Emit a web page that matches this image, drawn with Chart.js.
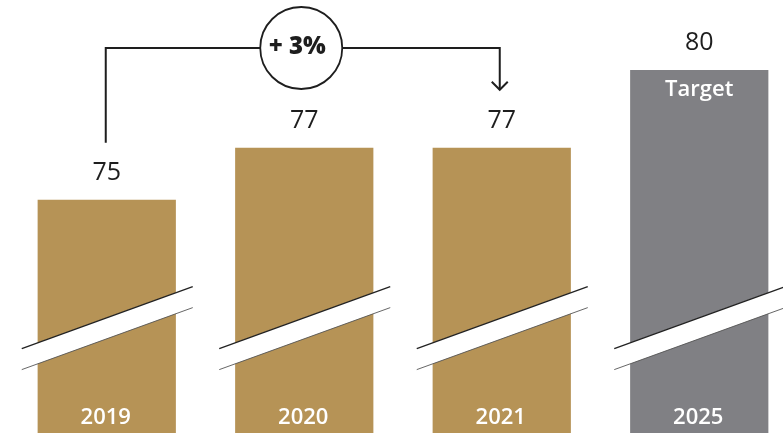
<!DOCTYPE html>
<html>
<head>
<meta charset="utf-8">
<script src="https://cdn.jsdelivr.net/npm/chart.js@4.4.2/dist/chart.umd.min.js"></script>
<style>
  html, body { margin: 0; padding: 0; background: #fff; overflow: hidden; }
  #wrap { width: 798px; height: 433px; position: relative; }
</style>
</head>
<body>
<div id="wrap"><canvas id="chart"></canvas></div>
<script>
const years = ['2019', '2020', '2021', '2025'];
const values = [75, 77, 77, 80];
const isTarget = [false, false, false, true];
const growthLabel = '+ 3%';
const targetLabel = 'Target';

const gold = '#b69356';
const grey = '#808084';
const ink = '#1e1e1e';
const font = '"Open Sans", "Noto Sans", sans-serif';

const breaks = {
  id: 'breaks',
  afterDatasetsDraw(chart) {
    const ctx = chart.ctx;
    const bars = chart.getDatasetMeta(0).data;
    const y = chart.scales.y;
    const ym = y.getPixelForValue(70.45);

    ctx.save();
    bars.forEach((bar, i) => {
      const l = bar.x - 85, r = bar.x + 86;
      // white gap band
      ctx.fillStyle = '#fff';
      ctx.beginPath();
      ctx.moveTo(l, ym + 31);
      ctx.lineTo(r, ym - 31);
      ctx.lineTo(r, ym - 10);
      ctx.lineTo(l, ym + 52);
      ctx.closePath();
      ctx.fill();
      ctx.strokeStyle = '#222';
      ctx.lineWidth = 1.3;
      ctx.beginPath();
      ctx.moveTo(l, ym + 31);
      ctx.lineTo(r, ym - 31);
      ctx.stroke();
      ctx.strokeStyle = '#555';
      ctx.lineWidth = 0.9;
      ctx.beginPath();
      ctx.moveTo(l, ym + 52);
      ctx.lineTo(r, ym - 10);
      ctx.stroke();

      // value above bar
      ctx.fillStyle = ink;
      ctx.textAlign = 'center';
      ctx.textBaseline = 'middle';
      ctx.font = '400 25px ' + font;
      ctx.fillText(values[i], bar.x, bar.y - 27);

      // year inside bar bottom
      ctx.fillStyle = '#fff';
      ctx.font = '600 22px ' + font;
      ctx.fillText(years[i], bar.x - 1, y.bottom - 15);

      if (isTarget[i]) {
        ctx.fillText(targetLabel, bar.x, bar.y + 20);
      }
    });

    // growth bracket 2019 -> 2021
    const a = bars[0], b = bars[2];
    const top = 48;
    const cx = (a.x + b.x) / 2 - 3;
    const rad = 41;
    ctx.strokeStyle = ink;
    ctx.lineWidth = 2;
    ctx.beginPath();
    ctx.moveTo(a.x - 1, a.y - 57);
    ctx.lineTo(a.x - 1, top);
    ctx.lineTo(cx - rad, top);
    ctx.moveTo(cx + rad, top);
    ctx.lineTo(b.x - 2, top);
    ctx.lineTo(b.x - 2, b.y - 58);
    ctx.stroke();
    ctx.beginPath();
    ctx.moveTo(b.x - 10, b.y - 66);
    ctx.lineTo(b.x - 2, b.y - 58);
    ctx.lineTo(b.x + 6, b.y - 66);
    ctx.stroke();
    ctx.lineWidth = 1.8;
    ctx.beginPath();
    ctx.arc(cx, top, rad, 0, Math.PI * 2);
    ctx.stroke();
    ctx.fillStyle = ink;
    ctx.font = '800 24px ' + font;
    ctx.textAlign = 'center';
    ctx.textBaseline = 'middle';
    ctx.fillText(growthLabel, cx - 4, top - 1);
    ctx.restore();
  }
};

new Chart(document.getElementById('chart'), {
  type: 'bar',
  data: {
    labels: years,
    datasets: [{
      data: values,
      backgroundColor: isTarget.map(t => t ? grey : gold),
      borderWidth: 0,
      barPercentage: 0.7,
      categoryPercentage: 1
    }]
  },
  options: {
    responsive: true,
    maintainAspectRatio: false,
    animation: false,
    layout: { padding: { left: 8, right: 0, top: 0, bottom: 0 } },
    scales: {
      x: { display: false },
      y: { display: false, min: 66, max: 82.7 }
    },
    plugins: {
      legend: { display: false },
      tooltip: { enabled: false }
    }
  },
  plugins: [breaks]
});
</script>
</body>
</html>
